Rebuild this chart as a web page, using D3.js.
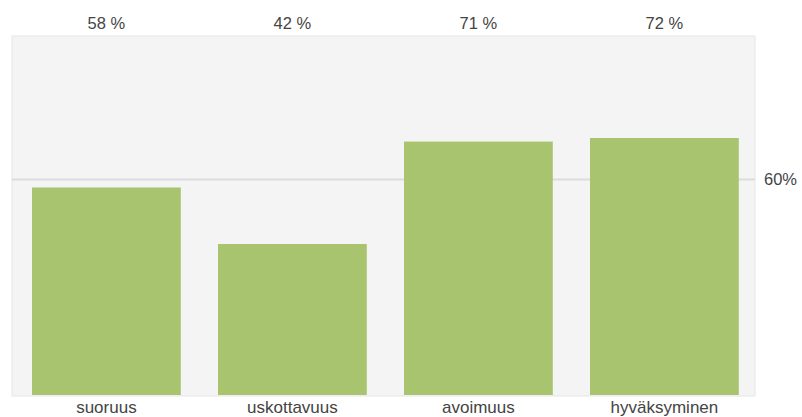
<!DOCTYPE html>
<html>
<head>
<meta charset="utf-8">
<script src="https://cdn.jsdelivr.net/npm/d3@7"></script>
<style>
body { margin: 0; background: #fff; }
text { font-family: "Liberation Sans", Arial, sans-serif; fill: #444; }
</style>
</head>
<body>
<svg id="chart" width="802" height="417"></svg>
<script>
var categories = ["suoruus", "uskottavuus", "avoimuus", "hyväksyminen"];
var values = [58, 42, 71, 72];
var refValue = [60];
var refLabels = ["60%"];

var width = 802,
	height = 417;
var plot = {left: 12, right: 755, top: 36, bottom: 396};

var svg = d3.select("#chart");

var x = d3.scaleBand()
	.domain(categories)
	.range([13.4, 757.4])
	.paddingInner(0.2)
	.paddingOuter(0.1);

var y = d3.scaleLinear()
	.domain([0, 100])
	.range([392.4, 39.1]);

// plot background
svg.append("rect")
	.attr("x", plot.left)
	.attr("y", plot.top)
	.attr("width", plot.right - plot.left)
	.attr("height", plot.bottom - plot.top)
	.attr("fill", "#f4f4f4")
	.attr("stroke", "#e6e6e6");

// reference line
svg.selectAll(".ref")
	.data(refValue)
.enter().append("line")
	.attr("class", "ref")
	.attr("x1", plot.left)
	.attr("x2", plot.right)
	.attr("y1", function(d) { return Math.round(y(d)) - 0.5; })
	.attr("y2", function(d) { return Math.round(y(d)) - 0.5; })
	.attr("stroke", "#dcdcdc")
	.attr("stroke-width", 2);

svg.selectAll(".refLabel")
	.data(refValue)
.enter().append("text")
	.attr("class", "refLabel")
	.attr("x", plot.right + 9)
	.attr("y", function(d) { return y(d) + 5; })
	.attr("font-size", 16.5)
	.text(function(d, i) { return refLabels[i]; });

// bars (drawn down to the plot floor)
svg.selectAll(".bar")
	.data(values)
.enter().append("rect")
	.attr("class", "bar")
	.attr("x", function(d, i) { return x(categories[i]); })
	.attr("y", function(d) { return y(d); })
	.attr("width", x.bandwidth())
	.attr("height", function(d) { return plot.bottom - 1 - y(d); })
	.attr("fill", "#a9c46f");

// value labels on top
svg.selectAll(".val")
	.data(values)
.enter().append("text")
	.attr("class", "val")
	.attr("x", function(d, i) { return x(categories[i]) + x.bandwidth() / 2; })
	.attr("y", 29)
	.attr("text-anchor", "middle")
	.attr("font-size", 16.5)
	.text(function(d) { return d + " %"; });

// category axis
var xAxis = d3.axisBottom(x).tickSize(0).tickPadding(5);
var gx = svg.append("g")
	.attr("transform", "translate(0," + plot.bottom + ")")
	.call(xAxis);
gx.select(".domain").remove();
gx.selectAll("text")
	.attr("font-size", 17)
	.attr("font-family", "Liberation Sans, Arial, sans-serif")
	.attr("fill", "#444");
</script>
</body>
</html>
